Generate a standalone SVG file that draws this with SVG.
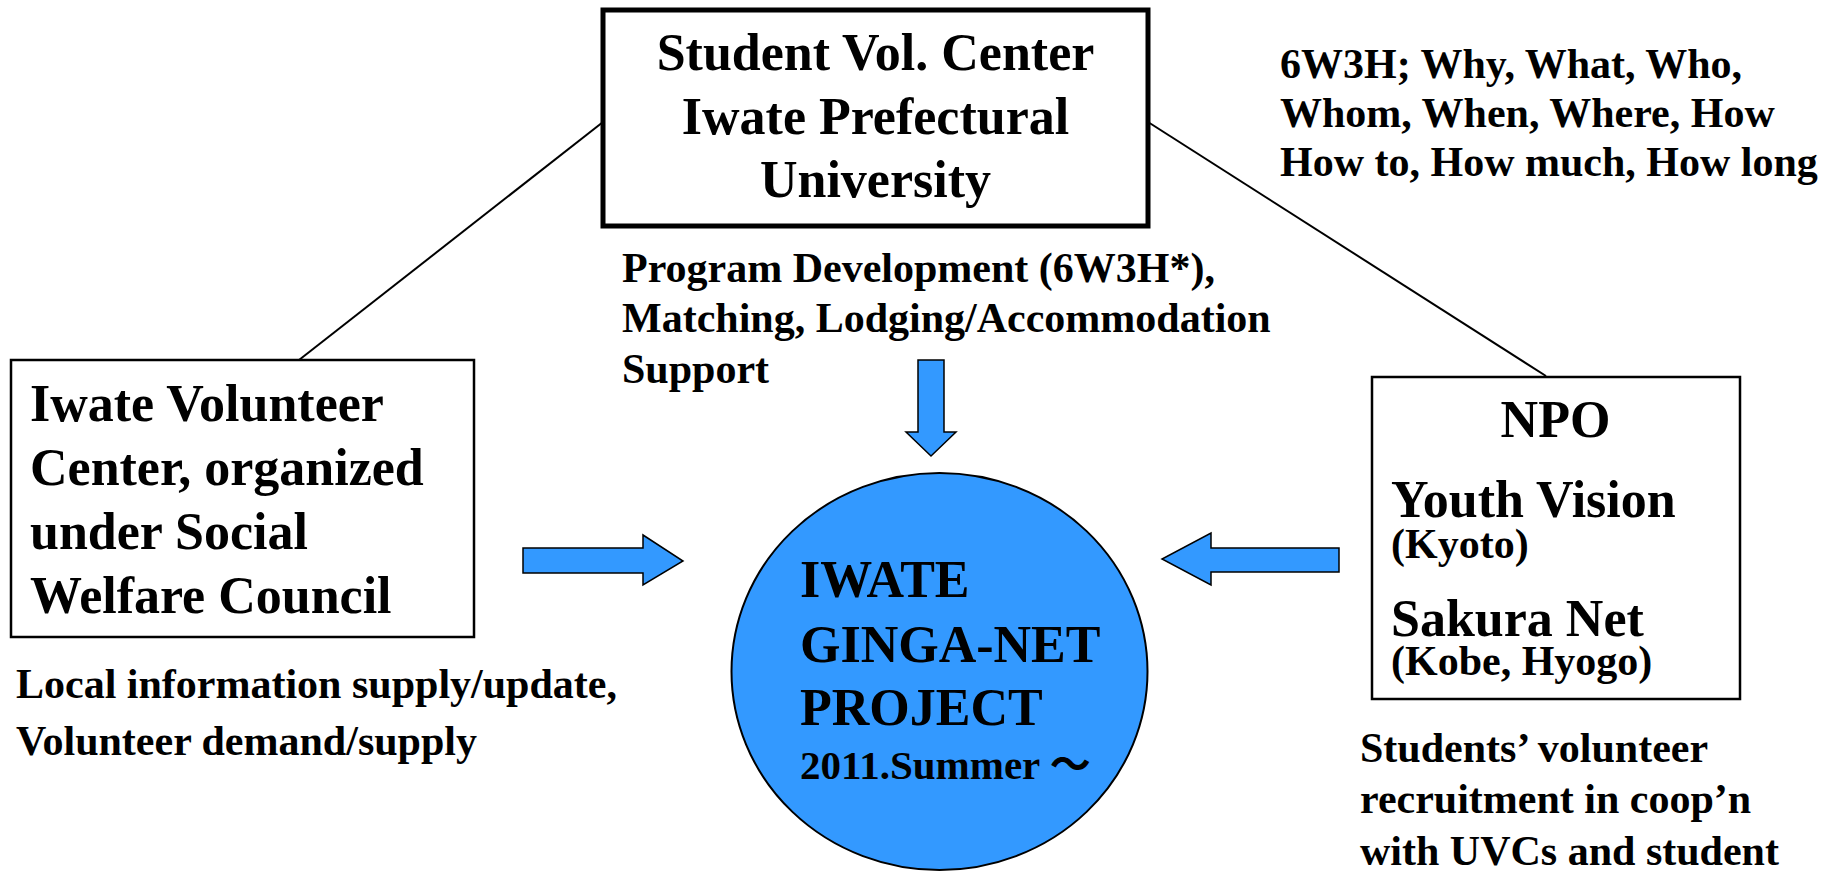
<svg xmlns="http://www.w3.org/2000/svg" width="1835" height="872" viewBox="0 0 1835 872">
<style>
text { font-family: "Liberation Serif", "Times New Roman", "Noto Sans CJK JP", serif; font-weight: bold; fill: #000; }
.l { font-size: 52px; }
.m { font-size: 42px; }
.box { fill: #fff; stroke: #000; }
.arrow { fill: #3399FF; stroke: #000; stroke-width: 1.5; stroke-linejoin: miter; }
.conn { stroke: #000; stroke-width: 2; fill: none; }
</style>
<rect width="1835" height="872" fill="#fff"/>
<g id="connectors">
  <line class="conn" x1="603" y1="122" x2="299" y2="360"/>
  <line class="conn" x1="1148" y1="122" x2="1546" y2="376"/>
  <polygon class="arrow" points="918,360 944,360 944,432 956,432 931,456 906,432 918,432"/>
  <polygon class="arrow" points="523,548 643,548 643,535 683,561 643,585 643,573 523,573"/>
  <polygon class="arrow" points="1339,548 1211,548 1211,533 1162,559 1211,585 1211,572 1339,572"/>
</g>
<g id="svc">
  <rect class="box" x="603" y="10" width="545" height="216" stroke-width="5"/>
  <text class="l" x="875.5" y="70" text-anchor="middle">Student Vol. Center</text>
  <text class="l" x="875.5" y="134" text-anchor="middle">Iwate Prefectural</text>
  <text class="l" x="875.5" y="197" text-anchor="middle">University</text>
</g>
<g id="note-6w3h">
  <text class="m" x="1280" y="78">6W3H; Why, What, Who,</text>
  <text class="m" x="1280" y="127">Whom, When, Where, How</text>
  <text class="m" x="1280" y="176">How to, How much, How long</text>
</g>
<g id="ivc">
  <rect class="box" x="11" y="360" width="463" height="277" stroke-width="2.5"/>
  <text class="l" x="30" y="421">Iwate Volunteer</text>
  <text class="l" x="30" y="485">Center, organized</text>
  <text class="l" x="30" y="549">under Social</text>
  <text class="l" x="30" y="613">Welfare Council</text>
</g>
<g id="note-local">
  <text class="m" x="16" y="698">Local information supply/update,</text>
  <text class="m" x="16" y="755">Volunteer demand/supply</text>
</g>
<g id="note-program">
  <text class="m" x="622" y="282">Program Development (6W3H*),</text>
  <text class="m" x="622" y="332">Matching, Lodging/Accommodation</text>
  <text class="m" x="622" y="383">Support</text>
</g>
<g id="project">
  <ellipse cx="939.5" cy="671.5" rx="208" ry="198.5" fill="#3399FF" stroke="#000" stroke-width="2"/>
  <text class="l" x="800" y="597">IWATE</text>
  <text class="l" x="800" y="662">GINGA-NET</text>
  <text class="l" x="800" y="725">PROJECT</text>
  <text x="800" y="779" font-size="41">2011.Summer ～</text>
</g>
<g id="npo">
  <rect class="box" x="1372" y="377" width="368" height="322" stroke-width="2.5"/>
  <text class="l" x="1555.5" y="437" text-anchor="middle">NPO</text>
  <text class="l" x="1391" y="517">Youth Vision</text>
  <text class="m" x="1391" y="558">(Kyoto)</text>
  <text class="l" x="1391" y="636">Sakura Net</text>
  <text class="m" x="1391" y="675">(Kobe, Hyogo)</text>
</g>
<g id="note-students">
  <text class="m" x="1360" y="762">Students’ volunteer</text>
  <text class="m" x="1360" y="813">recruitment in coop’n</text>
  <text class="m" x="1360" y="865">with UVCs and student</text>
</g>
</svg>
